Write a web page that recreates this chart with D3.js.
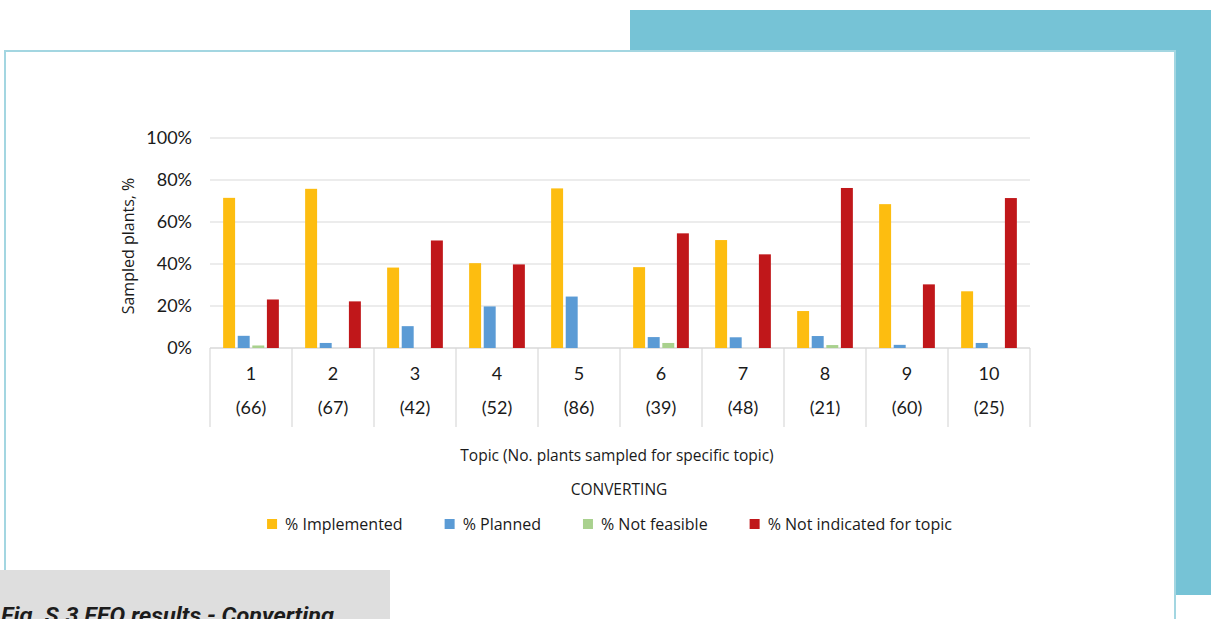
<!DOCTYPE html>
<html>
<head>
<meta charset="utf-8">
<script src="https://cdn.jsdelivr.net/npm/d3@7"></script>
<style>
  body { margin: 0; background: #fff; }
  svg { display: block; }
  text { font-family: Lato, "Noto Sans", sans-serif; fill: #1a1a1a; }
  .wide { font-family: "Open Sans", "Noto Sans", sans-serif; }
</style>
</head>
<body>
<script>
// data
var topics = ['1', '2', '3', '4', '5', '6', '7', '8', '9', '10'];
var sampled = ['(66)', '(67)', '(42)', '(52)', '(86)', '(39)', '(48)', '(21)', '(60)', '(25)'];
var seriesNames = ['% Implemented', '% Planned', '% Not feasible', '% Not indicated for topic'];
var implemented = [71.5, 75.8, 38.3, 40.4, 76.0, 38.5, 51.4, 17.6, 68.5, 27.0];
var planned = [5.8, 2.4, 10.4, 19.8, 24.5, 5.2, 5.1, 5.7, 1.5, 2.4];
var notFeasible = [1.2, 0, 0, 0, 0, 2.4, 0, 1.4, 0, 0];
var notIndicated = [23.1, 22.2, 51.2, 39.8, 0, 54.6, 44.6, 76.2, 30.3, 71.4];
var yTicks = [0, 0.2, 0.4, 0.6, 0.8, 1];

var colors = ['#fdbd10', '#5b9bd5', '#a9d18e', '#c0171a'];

var width = 1211,
    height = 619;

var svg = d3.select('body').append('svg')
    .attr('width', width)
    .attr('height', height);

// page decoration: teal block behind the white panel
svg.append('rect')
    .attr('x', 630).attr('y', 10)
    .attr('width', 600).attr('height', 585)
    .attr('fill', '#76c3d6');

svg.append('rect')
    .attr('x', 5).attr('y', 51)
    .attr('width', 1170).attr('height', 620)
    .attr('fill', '#fff')
    .attr('stroke', '#a3d6e1')
    .attr('stroke-width', 2);

var margin = { left: 210, right: 1030, top: 138, bottom: 348 };

var x0 = d3.scaleBand()
    .domain(topics)
    .range([margin.left, margin.right]);

var x1 = d3.scaleBand()
    .domain(seriesNames)
    .range([0, x0.bandwidth()])
    .paddingInner(0.18)
    .paddingOuter(0.9);

var y = d3.scaleLinear()
    .domain([0, 1])
    .range([margin.bottom, margin.top]);

// gridlines
svg.append('g')
    .selectAll('line')
    .data(yTicks)
    .enter().append('line')
        .attr('x1', margin.left)
        .attr('x2', margin.right)
        .attr('y1', function(d) { return y(d); })
        .attr('y2', function(d) { return y(d); })
        .attr('stroke', '#d9d9d9')
        .attr('stroke-width', function(d) { return d === 0 ? 1.5 : 1.2; });

var yAxis = svg.append('g')
    .selectAll('text')
    .data(yTicks)
    .enter().append('text')
        .attr('x', 192)
        .attr('y', function(d) { return y(d); })
        .attr('dy', '0.36em')
        .attr('text-anchor', 'end')
        .style('font-size', '18px')
        .text(d3.format('.0%'));

svg.append('text')
    .attr('class', 'wide')
    .attr('transform', 'translate(134,' + 246 + ') rotate(-90)')
    .attr('text-anchor', 'middle')
    .style('font-size', '16px')
    .text('Sampled plants, %');

// category table under the axis
var sepX = topics.map(function(t) { return x0(t); }).concat([margin.right]);
svg.append('g')
    .selectAll('line')
    .data(sepX)
    .enter().append('line')
        .attr('x1', function(d) { return d; })
        .attr('x2', function(d) { return d; })
        .attr('y1', margin.bottom)
        .attr('y2', 427)
        .attr('stroke', '#d9d9d9')
        .attr('stroke-width', 1.2);

var cat = svg.append('g')
    .selectAll('g')
    .data(topics)
    .enter().append('g')
        .attr('transform', function(d) { return 'translate(' + (x0(d) + x0.bandwidth() / 2) + ',0)'; });

cat.append('text')
    .attr('y', 380)
    .attr('text-anchor', 'middle')
    .style('font-size', '18px')
    .text(function(d) { return d; });

cat.append('text')
    .attr('y', 414)
    .attr('text-anchor', 'middle')
    .style('font-size', '18px')
    .text(function(d, i) { return sampled[i]; });

// bars
var series = [implemented, planned, notFeasible, notIndicated];

var groups = svg.append('g')
    .selectAll('g')
    .data(topics)
    .enter().append('g')
        .attr('transform', function(d) { return 'translate(' + x0(d) + ',0)'; });

groups.selectAll('rect')
    .data(function(d, i) {
        return seriesNames.map(function(name, k) {
            return { name: name, value: series[k][i] / 100, k: k };
        });
    })
    .enter().append('rect')
        .attr('x', function(d) { return x1(d.name); })
        .attr('width', x1.bandwidth())
        .attr('y', function(d) { return y(d.value); })
        .attr('height', function(d) { return y(0) - y(d.value); })
        .attr('fill', function(d) { return colors[d.k]; });

// titles
svg.append('text')
    .attr('class', 'wide')
    .attr('x', 617).attr('y', 461)
    .attr('text-anchor', 'middle')
    .style('font-size', '15.5px')
    .text('Topic (No. plants sampled for specific topic)');

svg.append('text')
    .attr('class', 'wide')
    .attr('x', 619).attr('y', 495)
    .attr('text-anchor', 'middle')
    .style('font-size', '15.5px')
    .text('CONVERTING');

// legend, laid out by text width and centred
var legend = svg.append('g');
var items = legend.selectAll('g')
    .data(seriesNames)
    .enter().append('g');

items.append('rect')
    .attr('y', 519)
    .attr('width', 10)
    .attr('height', 10)
    .attr('fill', function(d, i) { return colors[i]; });

items.append('text')
    .attr('class', 'wide')
    .attr('x', 18)
    .attr('y', 530)
    .style('font-size', '16px')
    .text(function(d) { return d; });

var cursor = 0;
items.each(function() {
    var w = d3.select(this).select('text').node().getComputedTextLength();
    d3.select(this).attr('transform', 'translate(' + cursor + ',0)');
    cursor += 18 + w + 42;
});
cursor -= 42;
legend.attr('transform', 'translate(' + (609.5 - cursor / 2) + ',0)');

// caption box
svg.append('rect')
    .attr('x', 0).attr('y', 570)
    .attr('width', 390).attr('height', 60)
    .attr('fill', '#dedede');

svg.append('text')
    .attr('x', 1).attr('y', 623)
    .attr('textLength', 333)
    .attr('lengthAdjust', 'spacingAndGlyphs')
    .style('font-family', 'Roboto, sans-serif')
    .style('font-weight', 'bold')
    .style('font-style', 'italic')
    .style('font-size', '22px')
    .style('fill', '#1c1c1c')
    .text('Fig. S.3 FEQ results - Converting');
</script>
</body>
</html>
